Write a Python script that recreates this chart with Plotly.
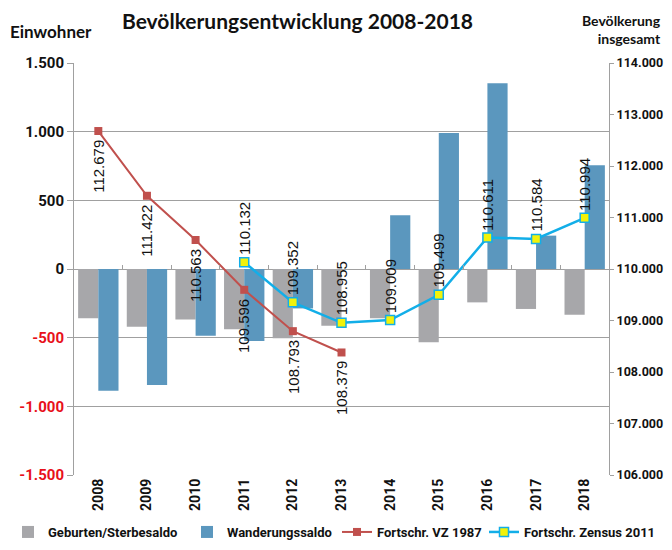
import plotly.graph_objects as go

years = ["2008", "2009", "2010", "2011", "2012", "2013", "2014", "2015", "2016", "2017", "2018"]
geburten_saldo = [-359, -420, -367, -439, -505, -413, -359, -534, -243, -291, -333]
wanderungs_saldo = [-886, -845, -486, -524, -287, 0, 391, 990, 1352, 243, 755]

vz1987_years = ["2008", "2009", "2010", "2011", "2012", "2013"]
vz1987_values = [112679, 111422, 110563, 109596, 108793, 108379]

zensus_years = ["2011", "2012", "2013", "2014", "2015", "2016", "2017", "2018"]
zensus_values = [110132, 109352, 108955, 109009, 109499, 110611, 110584, 110994]

left_tick_vals = [-1500, -1000, -500, 0, 500, 1000, 1500]
left_tick_text = ["-1.500", "-1.000", "-500", "0", "500", "1.000", "1.500"]
right_tick_vals = [106000, 107000, 108000, 109000, 110000, 111000, 112000, 113000, 114000]
right_tick_text = ["106.000", "107.000", "108.000", "109.000", "110.000", "111.000", "112.000", "113.000", "114.000"]

AX_FONT = "Roboto, Liberation Sans Narrow, sans-serif"
LBL_FONT = "Liberation Sans, Arial, sans-serif"
HEAD_FONT = "Lato, Open Sans, sans-serif"

# the page has an 8px body margin on every side; size the figure to fit inside it
OFF = 8
W, H = 672 - 2 * OFF, 550 - 2 * OFF
ml, mr, mt, mb = 74 - OFF, (W + OFF) - 609, 63 - OFF, (H + OFF) - 475
pw, ph = W - ml - mr, H - mt - mb


def px_to_paper(px, py):
    # px, py given in page coordinates
    return (px - OFF - ml) / pw, (H - mb - (py - OFF)) / ph


def fmt(v):
    return f"{v:,}".replace(",", ".")


def colored_ticks(vals, texts):
    out = []
    for v, t in zip(vals, texts):
        if v < 0:
            out.append(f"<span style='color:#E8101A'><b>{t}</b></span>")
        else:
            out.append(f"<b>{t}</b>")
    return out


fig = go.Figure()
fig.add_trace(go.Bar(x=years, y=geburten_saldo, name="<b>Geburten/Sterbesaldo</b>",
                     legend="legend",
                     marker=dict(color="#A7A7AA", line=dict(width=0))))
fig.add_trace(go.Bar(x=years, y=wanderungs_saldo, name="<b>Wanderungssaldo</b>",
                     legend="legend2",
                     marker=dict(color="#5B97BE", line=dict(width=0))))
fig.add_trace(go.Scatter(x=vz1987_years, y=vz1987_values, name="<b>Fortschr. VZ 1987</b>",
                         yaxis="y2", mode="lines+markers", legend="legend3",
                         line=dict(color="#C0504D", width=2),
                         marker=dict(symbol="square", size=8, color="#C0504D")))
fig.add_trace(go.Scatter(x=zensus_years, y=zensus_values, name="<b>Fortschr. Zensus 2011</b>",
                         yaxis="y2", mode="lines+markers", legend="legend4",
                         line=dict(color="#12AEE8", width=2.5),
                         marker=dict(symbol="square", size=9, color="#F2F20A",
                                     line=dict(color="#12AEE8", width=1.5))))
# boundary tick marks on the zero line (Excel-style category axis)
fig.add_trace(go.Scatter(x=[0], y=[0], xaxis="x2", mode="markers", showlegend=False,
                         marker=dict(opacity=0), hoverinfo="skip"))

annotations = []
for x, v in zip(vz1987_years, vz1987_values):
    annotations.append(dict(x=years.index(x), y=v, xref="x", yref="y2", text=fmt(v), textangle=-90,
                            showarrow=False, yanchor="top", yshift=-7,
                            font=dict(family=LBL_FONT, size=15, color="#111111")))
for x, v in zip(zensus_years, zensus_values):
    annotations.append(dict(x=years.index(x), y=v, xref="x", yref="y2", text=fmt(v), textangle=-90,
                            showarrow=False, yanchor="bottom", yshift=5,
                            font=dict(family=LBL_FONT, size=15, color="#111111")))

ex, ey = px_to_paper(8, 31)
annotations.append(dict(x=ex, y=ey, xref="paper", yref="paper", xanchor="left", yanchor="middle",
                        text="<b>Einwohner</b>", showarrow=False,
                        font=dict(family=HEAD_FONT, size=17, color="#111111")))
bx, by = px_to_paper(663, 10)
annotations.append(dict(x=bx, y=by, xref="paper", yref="paper", xanchor="right", yanchor="top",
                        text="<b>Bevölkerung</b><br><b>insgesamt</b>", showarrow=False,
                        align="right",
                        font=dict(family=HEAD_FONT, size=14, color="#111111")))

legend_y = (H - (532 - OFF)) / H
leg_common = dict(orientation="h", xref="container", yref="container", xanchor="left",
                  yanchor="middle", y=legend_y, itemwidth=30, bgcolor="rgba(0,0,0,0)",
                  font=dict(family=AX_FONT, size=13, color="#111111"))

n = len(years)
fig.update_layout(
    width=W, height=H,
    margin=dict(l=ml, r=mr, t=mt, b=mb, autoexpand=False),
    paper_bgcolor="white", plot_bgcolor="white",
    title=dict(text="<b>Bevölkerungsentwicklung 2008-2018</b>", x=(297.5 - OFF) / W,
               xanchor="center", y=1 - (22 - OFF) / H, yanchor="middle",
               font=dict(family=HEAD_FONT, size=21, color="#111111")),
    barmode="group", bargap=0.17, bargroupgap=0,
    showlegend=True,
    legend=dict(x=(8 - OFF) / W, **leg_common),
    legend2=dict(x=(187 - OFF) / W, **leg_common),
    legend3=dict(x=(337 - OFF) / W, **leg_common),
    legend4=dict(x=(484 - OFF) / W, **leg_common),
    xaxis=dict(type="category", range=[-0.5, n - 0.5], tickangle=-90,
               showgrid=False, zeroline=False, showline=False, ticks="",
               tickfont=dict(family=AX_FONT, size=14, color="#111111"),
               tickvals=years, ticktext=[f"<b>{y}</b>" for y in years]),
    xaxis2=dict(overlaying="x", anchor="free", position=0.5, range=[-0.5, n - 0.5],
                tickvals=[i + 0.5 for i in range(n - 1)], showticklabels=False,
                ticks="inside", ticklen=4, tickcolor="#A0A0A0", showgrid=False,
                zeroline=False, showline=False),
    yaxis=dict(range=[-1500, 1500], tickvals=left_tick_vals,
               ticktext=colored_ticks(left_tick_vals, left_tick_text),
               showgrid=True, gridcolor="#A0A0A0", gridwidth=1,
               zeroline=True, zerolinecolor="#A0A0A0", zerolinewidth=1,
               showline=True, linecolor="#A0A0A0", linewidth=1,
               ticks="outside", ticklen=6, tickcolor="#A0A0A0",
               tickfont=dict(family=AX_FONT, size=15, color="#111111")),
    yaxis2=dict(range=[106000, 114000], overlaying="y", side="right",
                tickvals=right_tick_vals, ticktext=[f"<b>{t}</b>" for t in right_tick_text],
                showgrid=False, zeroline=False,
                showline=True, linecolor="#A0A0A0", linewidth=1,
                ticks="outside", ticklen=4, tickcolor="#A0A0A0",
                tickfont=dict(family=AX_FONT, size=12.5, color="#111111")),
    annotations=annotations,
    font=dict(family=AX_FONT),
)

fig.write_html("out.html")
